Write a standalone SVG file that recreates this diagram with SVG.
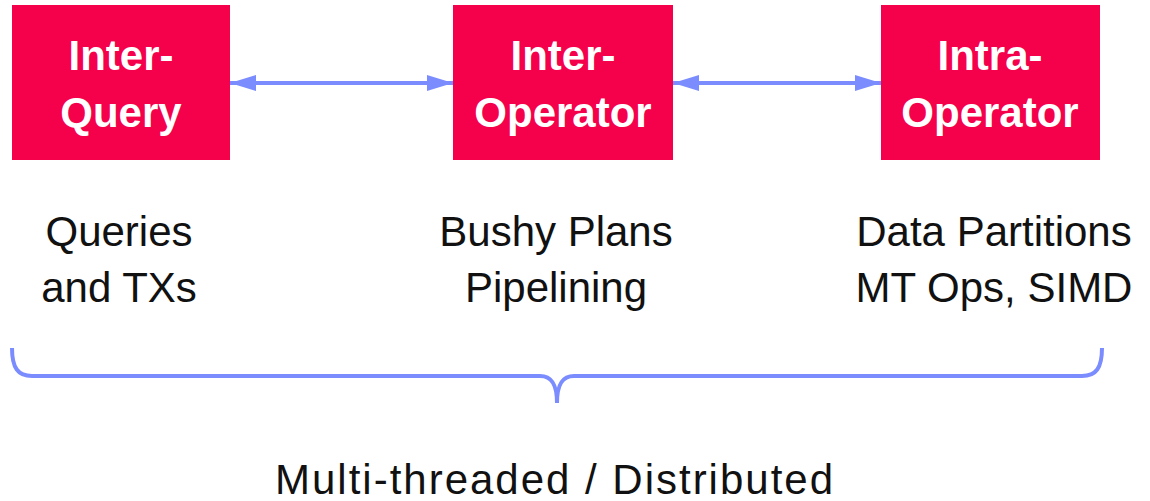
<svg xmlns="http://www.w3.org/2000/svg" width="1150" height="501" viewBox="0 0 1150 501">
<defs>
<style>
.box{fill:#F5004A}
.bt{font-family:"Liberation Sans",Arial,sans-serif;font-weight:bold;font-size:42px;fill:#fff;text-anchor:middle}
.lt{font-family:"Liberation Sans",Arial,sans-serif;font-size:42px;fill:#111;text-anchor:middle}
.conn{stroke:#7B8CFF;stroke-width:4;fill:none}
</style>
<marker id="ah" viewBox="0 0 26 16" refX="26" refY="8" markerWidth="26" markerHeight="16" markerUnits="userSpaceOnUse" orient="auto-start-reverse">
<path d="M0,0 L26,8 L0,16 Z" fill="#7B8CFF"/>
</marker>
</defs>
<rect width="1150" height="501" fill="#fff"/>
<g id="connectors">
<line class="conn" x1="230" y1="83" x2="453" y2="83" marker-start="url(#ah)" marker-end="url(#ah)"/>
<line class="conn" x1="673" y1="83" x2="881" y2="83" marker-start="url(#ah)" marker-end="url(#ah)"/>
<path class="conn" stroke-width="3.5" d="M12,348 C12,368 18,376 32,376 L540,376 C552,376 557,385 557,403 C557,385 562,376 574,376 L1082,376 C1096,376 1102,368 1102,348"/>
</g>
<g id="inter-query">
<rect class="box" x="12" y="5" width="218" height="155"/>
<text class="bt" x="121" y="70">Inter-</text>
<text class="bt" x="121" y="127">Query</text>
</g>
<g id="inter-operator">
<rect class="box" x="453" y="5" width="220" height="155"/>
<text class="bt" x="563" y="70">Inter-</text>
<text class="bt" x="563" y="127">Operator</text>
</g>
<g id="intra-operator">
<rect class="box" x="881" y="5" width="219" height="155"/>
<text class="bt" x="990" y="70">Intra-</text>
<text class="bt" x="990" y="127">Operator</text>
</g>
<g id="label-queries">
<text class="lt" x="119" y="246">Queries</text>
<text class="lt" x="119" y="302">and TXs</text>
</g>
<g id="label-bushy">
<text class="lt" x="556" y="246">Bushy Plans</text>
<text class="lt" x="556" y="302">Pipelining</text>
</g>
<g id="label-data">
<text class="lt" x="994" y="246">Data Partitions</text>
<text class="lt" x="994" y="302">MT Ops, SIMD</text>
</g>
<g id="label-bottom">
<text class="lt" x="554" y="494" font-size="45" textLength="558" lengthAdjust="spacing">Multi-threaded / Distributed</text>
</g>
</svg>
